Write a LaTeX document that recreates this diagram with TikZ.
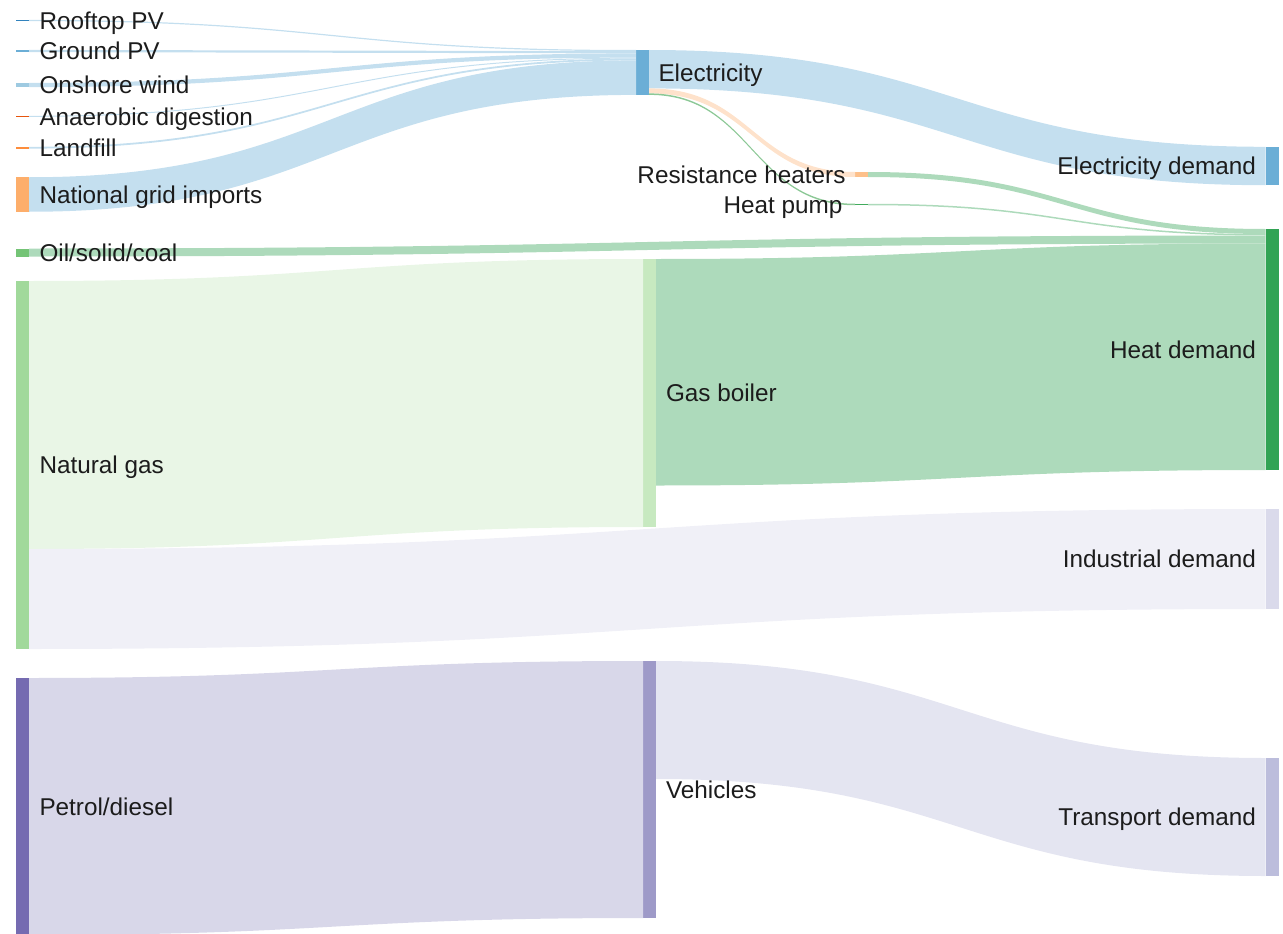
\documentclass[tikz,border=0pt]{standalone}
\usepackage{fontspec}
\setmainfont{Liberation Sans}
\usetikzlibrary{calc}

% node colours
\definecolor{cRoof}{HTML}{3182BD}
\definecolor{cGround}{HTML}{6BAED6}
\definecolor{cWind}{HTML}{9ECAE1}
\definecolor{cAnaer}{HTML}{E6550D}
\definecolor{cLandfill}{HTML}{FD8D3C}
\definecolor{cGrid}{HTML}{FDAE6B}
\definecolor{cOil}{HTML}{74C476}
\definecolor{cGas}{HTML}{A1D99B}
\definecolor{cPetrol}{HTML}{756BB1}
\definecolor{cElec}{HTML}{6BAED6}
\definecolor{cBoiler}{HTML}{C7E9C0}
\definecolor{cVehicle}{HTML}{9E9AC8}
\definecolor{cResist}{HTML}{FDC08A}
\definecolor{cPump}{HTML}{41AB5D}
\definecolor{cElecDem}{HTML}{6BAED6}
\definecolor{cHeatDem}{HTML}{31A354}
\definecolor{cIndDem}{HTML}{DADAEB}
\definecolor{cTraDem}{HTML}{BCBDDC}
% link colours
\definecolor{lBlue}{RGB}{196,223,239}
\definecolor{lPeach}{RGB}{254,226,203}
\definecolor{lPump}{RGB}{140,200,150}
\definecolor{lHeat}{RGB}{173,218,187}
\definecolor{lBoiler}{RGB}{233,246,230}
\definecolor{lInd}{RGB}{240,240,247}
\definecolor{lVeh}{RGB}{216,215,233}
\definecolor{lTra}{RGB}{228,229,241}
\definecolor{txt}{RGB}{28,28,28}

\tikzset{
  bar/.style={rectangle, inner sep=0pt, outer sep=0pt, minimum width=13pt},
  lbl/.style={inner sep=0pt, outer sep=0pt, text height=17.4pt, text depth=0pt,
              text=txt, font=\fontsize{24.3}{29}\selectfont},
}

% ribbon between two bars: colour, source, offset at source, target, offset at target, width
\newcommand\flow[6]{%
  \pgfmathsetmacro\flowA{#3}%
  \pgfmathsetmacro\flowB{#3+#6}%
  \pgfmathsetmacro\flowC{#5}%
  \pgfmathsetmacro\flowD{#5+#6}%
  \path ([yshift=-\flowA pt]#2.north east) coordinate (fa)
        ([yshift=-\flowB pt]#2.north east) coordinate (fb)
        ([yshift=-\flowC pt]#4.north west) coordinate (fc)
        ([yshift=-\flowD pt]#4.north west) coordinate (fd)
        ($(fa)!0.5!(fc)$) coordinate (fm);
  \fill[#1] (fa) .. controls (fm|-fa) and (fm|-fc) .. (fc) -- (fd)
        .. controls (fm|-fd) and (fm|-fb) .. (fb) -- cycle;
}

\begin{document}
\begin{tikzpicture}[x=1pt, y=-1pt]
\useasboundingbox (0,0) rectangle (1283,934);

% sources
\node[bar, fill=cRoof, minimum height=1.2pt]    (roof)   at (22.5,20.5) {};
\node[bar, fill=cGround, minimum height=2.2pt]  (ground) at (22.5,51) {};
\node[bar, fill=cWind, minimum height=4.2pt]    (wind)   at (22.5,85) {};
\node[bar, fill=cAnaer, minimum height=1pt]     (anaer)  at (22.5,116.3) {};
\node[bar, fill=cLandfill, minimum height=1.8pt](land)   at (22.5,147.7) {};
\node[bar, fill=cGrid, minimum height=34.5pt]   (grid)   at (22.5,194.5) {};
\node[bar, fill=cOil, minimum height=8pt]       (oil)    at (22.5,252.5) {};
\node[bar, fill=cGas, minimum height=368pt]     (gas)    at (22.5,465) {};
\node[bar, fill=cPetrol, minimum height=257pt]  (petrol) at (22.5,806.5) {};

% conversion
\node[bar, fill=cElec, minimum height=44.9pt]   (elec)   at (642.5,72.45) {};
\node[bar, fill=cBoiler, minimum height=268pt]  (boiler) at (649.5,393) {};
\node[bar, fill=cVehicle, minimum height=257pt] (veh)    at (649.5,789.5) {};
\node[bar, fill=cResist, minimum height=5pt]    (resist) at (861.5,174.5) {};
\node[bar, fill=cPump, minimum height=1.5pt]    (pump)   at (861.5,204.5) {};

% demands
\node[bar, fill=cElecDem, minimum height=38.4pt] (elecdem) at (1272,166) {};
\node[bar, fill=cHeatDem, minimum height=241pt]  (heatdem) at (1272,349.5) {};
\node[bar, fill=cIndDem, minimum height=100pt]   (inddem)  at (1272,559) {};
\node[bar, fill=cTraDem, minimum height=118pt]   (tradem)  at (1272,817) {};

% flows into electricity
\flow{lBlue}{roof}{0}{elec}{0}{1.2}
\flow{lBlue}{ground}{0}{elec}{1.2}{2.2}
\flow{lBlue}{wind}{0}{elec}{3.4}{4.2}
\flow{lBlue}{anaer}{0}{elec}{7.6}{1}
\flow{lBlue}{land}{0}{elec}{8.6}{1.8}
\flow{lBlue}{grid}{0}{elec}{10.4}{34.5}
% flows out of electricity
\flow{lBlue}{elec}{0}{elecdem}{0}{38.4}
\flow{lPeach}{elec}{38.4}{resist}{0}{5}
\flow{lPump}{elec}{43.4}{pump}{0}{1.5}
% heat
\flow{lHeat}{resist}{0}{heatdem}{0}{5}
\flow{lHeat}{pump}{0}{heatdem}{5}{1.5}
\flow{lHeat}{oil}{0}{heatdem}{6.5}{8}
\flow{lHeat}{boiler}{0}{heatdem}{14.5}{226.5}
% gas
\flow{lBoiler}{gas}{0}{boiler}{0}{268}
\flow{lInd}{gas}{268}{inddem}{0}{100}
% transport
\flow{lVeh}{petrol}{0}{veh}{0}{257}
\flow{lTra}{veh}{0}{tradem}{0}{118}

% labels
\node[lbl, anchor=west] (t-roof)   at ([xshift=10.5pt]roof.east)   {Rooftop PV};
\node[lbl, anchor=west] (t-ground) at ([xshift=10.5pt]ground.east) {Ground PV};
\node[lbl, anchor=west] (t-wind)   at ([xshift=10.5pt]wind.east)   {Onshore wind};
\node[lbl, anchor=west] (t-anaer)  at ([xshift=10.5pt]anaer.east)  {Anaerobic digestion};
\node[lbl, anchor=west] (t-land)   at ([xshift=10.5pt]land.east)   {Landfill};
\node[lbl, anchor=west] (t-grid)   at ([xshift=10.5pt]grid.east)   {National grid imports};
\node[lbl, anchor=west] (t-oil)    at ([xshift=10.5pt]oil.east)    {Oil/solid/coal};
\node[lbl, anchor=west] (t-gas)    at ([xshift=10.5pt]gas.east)    {Natural gas};
\node[lbl, anchor=west] (t-petrol) at ([xshift=10.5pt]petrol.east) {Petrol/diesel};
\node[lbl, anchor=west] (t-elec)   at ([xshift=9.5pt]elec.east)    {Electricity};
\node[lbl, anchor=west] (t-boiler) at ([xshift=10pt]boiler.east)   {Gas boiler};
\node[lbl, anchor=west] (t-veh)    at ([xshift=10pt]veh.east)      {Vehicles};
\node[lbl, anchor=east] (t-resist) at ([xshift=-9.5pt]resist.west) {Resistance heaters};
\node[lbl, anchor=east] (t-pump)   at ([xshift=-12.5pt]pump.west)  {Heat pump};
\node[lbl, anchor=east] (t-elecdem) at ([xshift=-9.5pt]elecdem.west) {Electricity demand};
\node[lbl, anchor=east] (t-heatdem) at ([xshift=-9.5pt]heatdem.west) {Heat demand};
\node[lbl, anchor=east] (t-inddem)  at ([xshift=-9.5pt]inddem.west)  {Industrial demand};
\node[lbl, anchor=east] (t-tradem)  at ([xshift=-9.5pt]tradem.west)  {Transport demand};
\end{tikzpicture}
\end{document}
